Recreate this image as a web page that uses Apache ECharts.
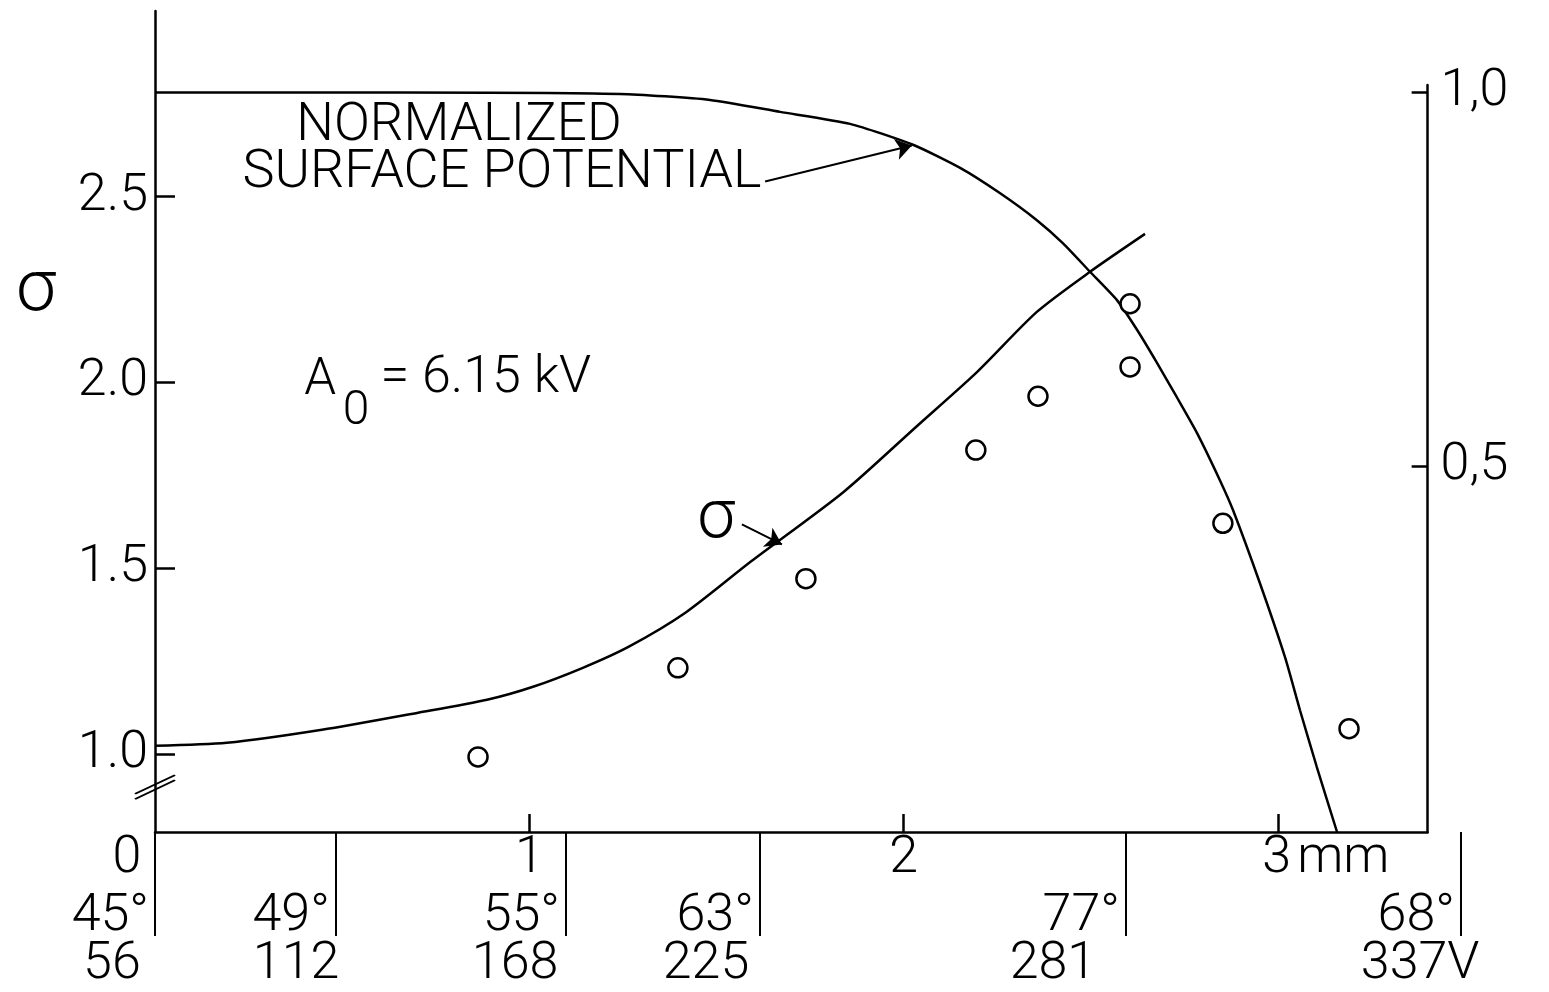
<!DOCTYPE html>
<html><head><meta charset="utf-8">
<script src="https://cdn.jsdelivr.net/npm/echarts@6/dist/echarts.min.js"></script>
<style>html,body{margin:0;padding:0;background:#fff}#c{width:1549px;height:992px}</style>
</head><body><div id="c"></div>
<script>
// ---- data ----
const xTicksMm = [0, 1, 2, 3];
const xTickLabels = ['0', '1', '2', '3mm'];
const sigmaTicks = [1.0, 1.5, 2.0, 2.5];
const potentialTicks = [0.5, 1.0];
const yAxisTitle = 'σ';
// secondary scales under the distance axis
const angleDividers = [0, 0.483, 1.098, 1.616, 2.594, 3.489];
const angleLabels = ['45°', '49°', '55°', '63°', '77°', '68°'];
const voltPos = [-0.115, 0.377, 0.962, 1.472, 2.399, 3.380];
const voltLabels = ['56', '112', '168', '225', '281', '337V'];
// sigma curve
const sigmaCurveX = [0, 0.192, 0.446, 0.703, 0.887, 1.010, 1.143, 1.266, 1.418, 1.592, 1.838, 2.036, 2.196, 2.356, 2.498, 2.645];
const sigmaCurveY = [1.022, 1.030, 1.065, 1.111, 1.146, 1.181, 1.232, 1.289, 1.381, 1.518, 1.704, 1.883, 2.028, 2.190, 2.298, 2.400];
// measured sigma points
const sigmaPointsX = [0.863, 1.397, 1.739, 2.193, 2.359, 2.605, 2.605, 2.853, 3.190];
const sigmaPointsY = [0.992, 1.232, 1.472, 1.818, 1.963, 2.212, 2.042, 1.621, 1.068];
// normalized surface potential
const potentialX = [0, 0.655, 1.242, 1.483, 1.670, 1.857, 2.025, 2.151, 2.258, 2.356, 2.426, 2.498, 2.570, 2.624, 2.677, 2.730, 2.784, 2.845, 2.880, 2.952, 3.019, 3.059, 3.104, 3.158];
const potentialY = [1.0, 1.0, 0.998, 0.990, 0.974, 0.958, 0.930, 0.899, 0.865, 0.829, 0.798, 0.760, 0.722, 0.682, 0.638, 0.592, 0.544, 0.481, 0.441, 0.343, 0.244, 0.173, 0.097, 0.01];
const annotationTexts = ['NORMALIZED', 'SURFACE POTENTIAL', 'A', '0', '= 6.15 kV', 'σ'];

// ---- layout ----
const FONT = 'Roboto, "Liberation Sans", sans-serif';
const WEIGHT = 300;
const INK = '#000';
const PX_PER_MM = 374.3;
const XMAX = 3.4;
const SCALE_MIN = -0.4, SCALE_MAX = 3.7;
const LBL = 52;
const axisLineStyle = { color: '#000', width: 2.5 };
const zip = (a, b) => a.map((v, i) => [v, b[i]]);
const nearest = (arr, v) => { let bi = 0; arr.forEach((a, i) => { if (Math.abs(a - v) < Math.abs(arr[bi] - v)) bi = i; }); return bi; };
const baseTxt = { fontFamily: FONT, fontWeight: WEIGHT, color: INK };

const chart = echarts.init(document.getElementById('c'), null, { renderer: 'canvas' });

const annPos = [[0.812, 2.689], [0.927, 2.562], [0.441, 2.004], [0.537, 1.920], [0.884, 2.009], [1.499, 1.629]];
const annSize = [53, 54, 51, 48, 52, 68];

const option = {
  animation: false,
  backgroundColor: '#fff',
  textStyle: { fontFamily: FONT, fontWeight: WEIGHT },
  grid: [
    { left: 155, top: 11, width: XMAX * PX_PER_MM, bottom: 160 },
    { left: 155, top: 85, width: XMAX * PX_PER_MM, bottom: 160 },
    { left: 155 + SCALE_MIN * PX_PER_MM, top: 11, width: (SCALE_MAX - SCALE_MIN) * PX_PER_MM, bottom: 160 }
  ],
  xAxis: [
    {
      type: 'value', gridIndex: 0, min: 0, max: XMAX, position: 'bottom',
      axisLine: { show: true, onZero: false, lineStyle: axisLineStyle },
      axisTick: { show: true, inside: true, length: 18, customValues: [1, 2, 3], lineStyle: { color: '#000', width: 2.5 } },
      splitLine: { show: false },
      axisLabel: {
        customValues: xTicksMm, margin: 1,
        formatter: v => {
          const i = nearest(xTicksMm, v);
          const m = xTickLabels[i].match(/^(\d+)(.*)$/);
          if (i === 0) return '{n|' + m[1] + '}{q| }';
          if (m[2]) return '{p| }{n|' + m[1] + '}{u|' + m[2] + '}';
          return '{n|' + m[1] + '}';
        },
        rich: {
          n: { ...baseTxt, fontSize: LBL, lineHeight: LBL },
          u: { ...baseTxt, fontSize: LBL, lineHeight: LBL, padding: [0, 0, 0, 6] },
          p: { width: 96, fontSize: LBL, lineHeight: LBL },
          q: { width: 56, fontSize: LBL, lineHeight: LBL }
        }
      }
    },
    { type: 'value', gridIndex: 1, min: 0, max: XMAX, show: false },
    {
      type: 'value', gridIndex: 2, min: SCALE_MIN, max: SCALE_MAX, position: 'bottom',
      axisLine: { show: false, onZero: false },
      axisTick: { show: true, customValues: angleDividers, length: 104, lineStyle: { color: '#000', width: 2 } },
      splitLine: { show: false },
      axisLabel: {
        customValues: angleDividers, margin: 59, align: 'right', padding: [0, 6, 0, 0],
        ...baseTxt, fontSize: LBL, lineHeight: LBL,
        formatter: v => angleLabels[nearest(angleDividers, v)]
      }
    },
    {
      type: 'value', gridIndex: 2, min: SCALE_MIN, max: SCALE_MAX, position: 'bottom',
      axisLine: { show: false, onZero: false }, axisTick: { show: false }, splitLine: { show: false },
      axisLabel: {
        customValues: voltPos, margin: 107, ...baseTxt, fontSize: LBL, lineHeight: LBL,
        formatter: v => voltLabels[nearest(voltPos, v)]
      }
    }
  ],
  yAxis: [
    {
      type: 'value', gridIndex: 0, min: 0.79, max: 3.0, position: 'left',
      axisLine: { show: true, onZero: false, lineStyle: axisLineStyle },
      axisTick: { show: true, inside: true, length: 20, customValues: sigmaTicks, lineStyle: { color: '#000', width: 2.5 } },
      splitLine: { show: false },
      axisLabel: { customValues: sigmaTicks, margin: 7, ...baseTxt, fontSize: LBL, formatter: v => v.toFixed(1) }
    },
    {
      type: 'value', gridIndex: 1, min: 0.01, max: 1.01, position: 'right',
      axisLine: { show: true, onZero: false, lineStyle: axisLineStyle },
      axisTick: { show: true, inside: true, length: 16, customValues: potentialTicks, lineStyle: { color: '#000', width: 2.5 } },
      splitLine: { show: false },
      axisLabel: { customValues: potentialTicks, margin: 13, ...baseTxt, fontSize: LBL, formatter: v => v.toFixed(1).replace('.', ',') }
    },
    { type: 'value', gridIndex: 2, min: 0.79, max: 3.0, show: false }
  ],
  series: [
    {
      name: 'σ (curve)', type: 'line', xAxisIndex: 0, yAxisIndex: 0,
      data: zip(sigmaCurveX, sigmaCurveY), smooth: 0.25, showSymbol: false,
      lineStyle: { color: '#000', width: 2.5 }, silent: true
    },
    {
      name: 'NORMALIZED SURFACE POTENTIAL', type: 'line', xAxisIndex: 1, yAxisIndex: 1,
      data: zip(potentialX, potentialY), smooth: 0.2, showSymbol: false,
      lineStyle: { color: '#000', width: 2.5 }, silent: true
    },
    {
      name: 'σ (measured)', type: 'scatter', xAxisIndex: 0, yAxisIndex: 0,
      data: zip(sigmaPointsX, sigmaPointsY), symbol: 'circle', symbolSize: 19,
      itemStyle: { color: '#fff', borderColor: '#000', borderWidth: 2.5, opacity: 1 }, z: 5, silent: true
    },
    {
      name: 'axis break', type: 'scatter', xAxisIndex: 0, yAxisIndex: 0, clip: false,
      data: [[0, 0.911]], symbol: 'path://M0,22L46,0M0,28L46,6', symbolSize: [40, 24],
      itemStyle: { color: 'none', borderColor: '#000', borderWidth: 2, opacity: 1 }, z: 6, silent: true
    },
    {
      name: 'y title', type: 'scatter', xAxisIndex: 2, yAxisIndex: 2, clip: false,
      symbolSize: 0, silent: true,
      itemStyle: { opacity: 1 },
      data: [{ value: [-0.318, 2.243], name: yAxisTitle }],
      label: { show: true, position: 'inside', formatter: '{b}', ...baseTxt, fontSize: 72 }
    },
    {
      name: 'annotations', type: 'scatter', xAxisIndex: 0, yAxisIndex: 0, clip: false,
      symbolSize: 0, silent: true, z: 7,
      itemStyle: { opacity: 1 },
      data: annotationTexts.map((t, i) => ({
        value: annPos[i], name: t,
        label: { show: true, position: 'inside', formatter: '{b}', ...baseTxt, fontSize: annSize[i] }
      })),
      markLine: {
        silent: true, symbol: ['none', 'arrow'], symbolSize: 16,
        lineStyle: { color: '#000', width: 2, type: 'solid', opacity: 1 },
        itemStyle: { color: '#000', opacity: 1 },
        label: { show: false },
        emphasis: { disabled: true },
        data: [
          [{ coord: [1.630, 2.541] }, { coord: [2.022, 2.638] }],
          [{ coord: [1.568, 1.618] }, { coord: [1.675, 1.564] }]
        ]
      }
    }
  ]
};
chart.setOption(option);
</script>
</body></html>
